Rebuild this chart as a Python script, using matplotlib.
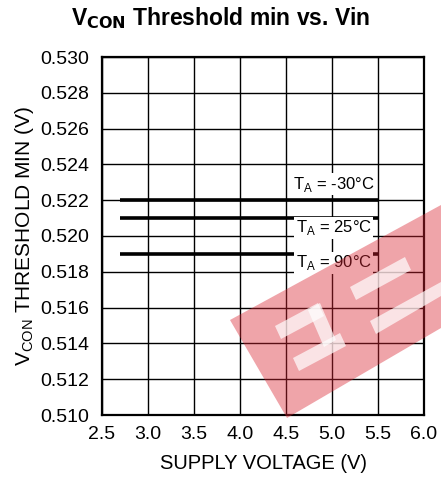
import matplotlib
matplotlib.use("Agg")
import matplotlib.pyplot as plt
from matplotlib.patches import Polygon

plt.rcParams['font.family'] = ['Liberation Sans', 'DejaVu Sans']

# Data
supply_voltage = [2.7, 5.5]
series_labels = [r"T$_\mathregular{A}$ = -30°C", r"T$_\mathregular{A}$ = 25°C", r"T$_\mathregular{A}$ = 90°C"]
threshold_m30 = [0.522, 0.522]
threshold_25 = [0.521, 0.521]
threshold_90 = [0.519, 0.519]
x_ticks = [2.5, 3.0, 3.5, 4.0, 4.5, 5.0, 5.5, 6.0]
y_ticks = [0.510, 0.512, 0.514, 0.516, 0.518, 0.520, 0.522, 0.524, 0.526, 0.528, 0.530]

W, H = 441, 479
fig = plt.figure(figsize=(W / 100, H / 100), dpi=100)
ax = fig.add_axes([102 / W, 1 - 415 / H, (424 - 102) / W, (415 - 57) / H])

for ys in (threshold_m30, threshold_25, threshold_90):
    ax.plot(supply_voltage, ys, color='black', lw=2.6, solid_capstyle='butt', zorder=3)

label_pos = [(5.02, 0.5229), (5.02, 0.52045), (5.02, 0.5185)]
for (lx, ly), lab in zip(label_pos, series_labels):
    ax.text(lx, ly, lab, ha='center', va='center', fontsize=12,
            bbox=dict(facecolor='white', edgecolor='none', pad=1.0), zorder=4)

ax.set_xlim(2.5, 6.0)
ax.set_ylim(0.510, 0.530)
ax.set_xticks(x_ticks)
ax.set_yticks(y_ticks)
ax.set_xticklabels([f"{v:.1f}" for v in x_ticks], fontsize=14)
ax.set_yticklabels([f"{v:.3f}" for v in y_ticks], fontsize=14)
ax.tick_params(axis='x', length=0, pad=8)
ax.tick_params(axis='y', length=0, pad=9)
ax.grid(True, color='black', lw=1.0)
for s in ax.spines.values():
    s.set_linewidth(1.6)

ax.set_xlabel("SUPPLY VOLTAGE (V)", fontsize=14.5, labelpad=8)
ax.set_ylabel(r"V$_\mathregular{CON}$ THRESHOLD MIN (V)", fontsize=15, labelpad=3)
fig.text(0.5, 1 - 18 / H, r"V$_\mathbf{CON}$ Threshold min vs. Vin", ha='center', va='center',
         fontsize=16.5, fontweight='bold')

# watermark
def px(pts):
    return [(x / W, 1 - y / H) for x, y in pts]

fig.patches.append(Polygon(px([(230, 320), (441, 205), (441, 328), (287, 418)]), closed=True,
                           transform=fig.transFigure, facecolor=(0.85, 0.15, 0.2), alpha=0.42,
                           edgecolor='none', zorder=10))
for shape in ([(275, 326), (318, 303), (324, 316), (281, 339)],
              [(308, 310), (320, 303), (336, 340), (324, 347)],
              [(293, 358), (340, 333), (346, 346), (299, 371)],
              [(350, 287), (405, 257), (411, 270), (356, 300)],
              [(370, 321), (441, 282), (441, 296), (376, 334)]):
    fig.patches.append(Polygon(px(shape), closed=True, transform=fig.transFigure,
                               facecolor='white', alpha=0.7, edgecolor='none', zorder=11))

fig.savefig("out.png", dpi=100)
